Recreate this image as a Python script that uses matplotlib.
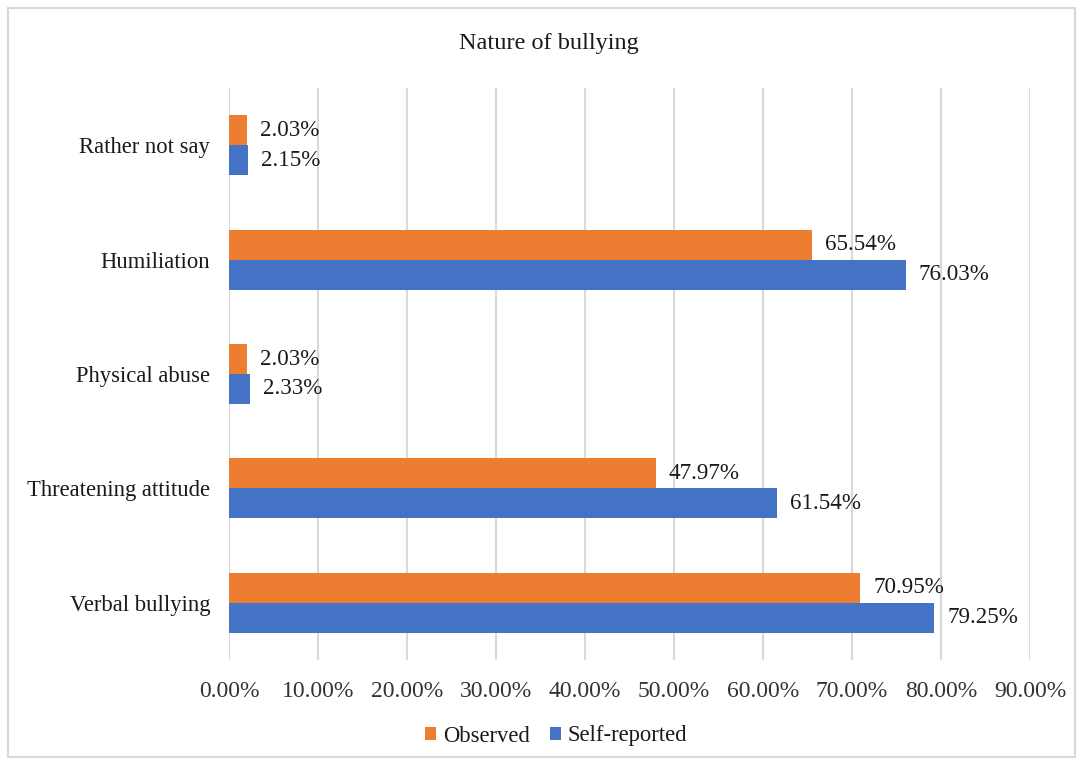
import matplotlib
matplotlib.use("Agg")
import matplotlib.pyplot as plt
from matplotlib.patches import Rectangle
import numpy as np

plt.rcParams['font.family'] = ['Liberation Serif', 'DejaVu Serif']

categories = ["Verbal bullying", "Threatening attitude", "Physical abuse", "Humiliation", "Rather not say"]
observed = [70.95, 47.97, 2.03, 65.54, 2.03]
self_reported = [79.25, 61.54, 2.33, 76.03, 2.15]
xticks = [0, 10, 20, 30, 40, 50, 60, 70, 80, 90]

c_obs = "#ED7D31"
c_self = "#4472C4"

W, H = 1083, 765
fig = plt.figure(figsize=(W / 100, H / 100), dpi=100)
ax = fig.add_axes([229 / W, 1 - 660 / H, (1030 - 229) / W, (660 - 88) / H])

y = np.arange(len(categories))
bh = 0.262
b1 = ax.barh(y + bh / 2, observed, height=bh, color=c_obs, label="Observed", zorder=3)
b2 = ax.barh(y - bh / 2, self_reported, height=bh, color=c_self, label="Self-reported", zorder=3)

tc = "#1a1a1a"
for bars, vals in ((b1, observed), (b2, self_reported)):
    for rect, v in zip(bars, vals):
        ax.annotate(f"{v:.2f}%", (rect.get_width(), rect.get_y() + rect.get_height() / 2),
                    xytext=(13, 0), textcoords="offset pixels",
                    va="center", ha="left", fontsize=16.6, color=tc)

ax.set_xlim(0, 90)
ax.set_ylim(-0.5, 4.5)
ax.set_xticks(xticks)
ax.set_xticklabels([f"{t:.2f}%" for t in xticks], fontsize=17, color="#333333")
ax.set_yticks(y)
ax.set_yticklabels(categories, fontsize=16.3, color=tc)
ax.tick_params(axis="both", length=0)
ax.tick_params(axis="x", pad=15)
ax.tick_params(axis="y", pad=13.5)
ax.grid(axis="x", color="#D9D9D9", linewidth=1.5, zorder=0)
for s in ax.spines.values():
    s.set_visible(False)

fig.text(549 / W, 1 - 44 / H, "Nature of bullying", ha="center", va="center", fontsize=17.5, color=tc)

handles = [b1, b2]
leg = fig.legend(handles, ["Observed", "Self-reported"], loc="center", bbox_to_anchor=(556 / W, 1 - 736 / H),
                 ncol=2, frameon=False, fontsize=16.3, handlelength=0.5, handleheight=0.5,
                 handletextpad=0.3, columnspacing=0.9)
for t in leg.get_texts():
    t.set_color(tc)

fig.patches.append(Rectangle((8 / W, 8 / H), (1075 - 8) / W, (757 - 8) / H, transform=fig.transFigure,
                             fill=False, edgecolor="#D9D9D9", linewidth=1.5))

fig.savefig("out.png", dpi=100, facecolor="white")
